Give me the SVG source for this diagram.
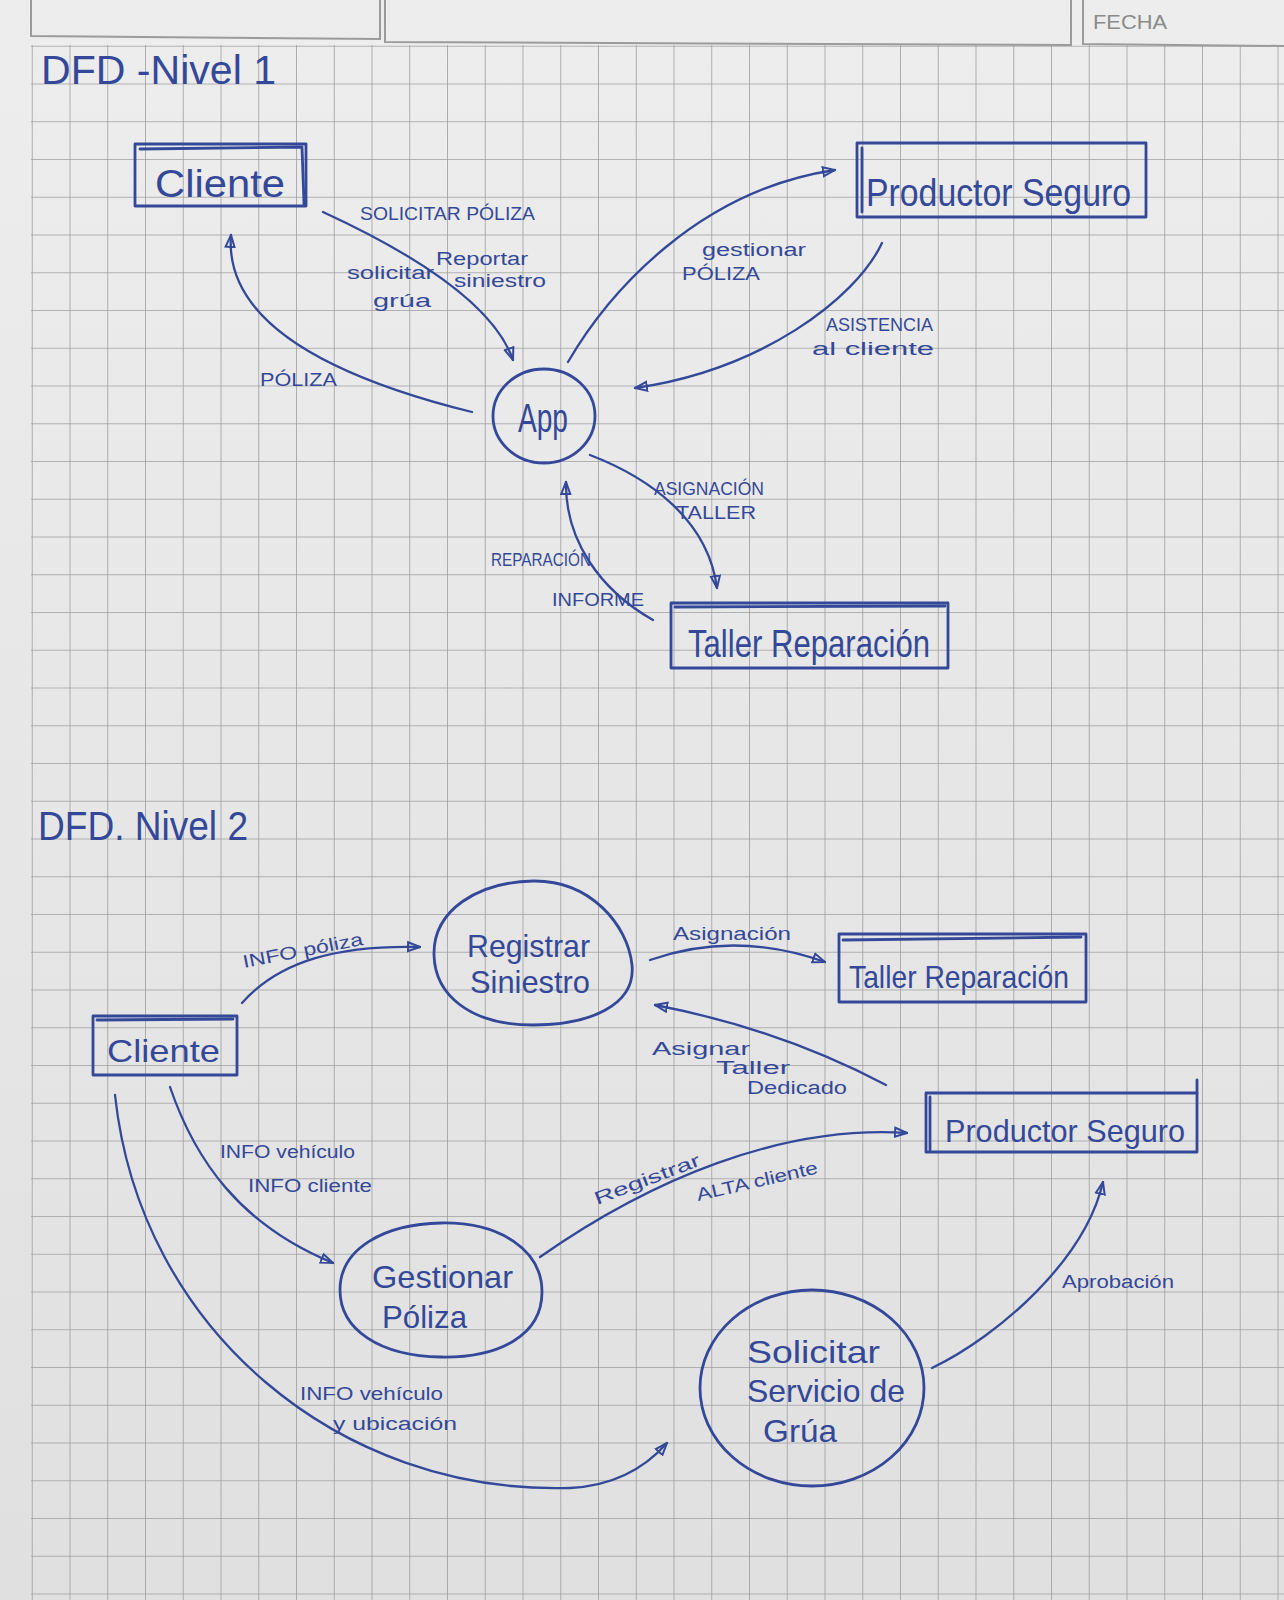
<svg xmlns="http://www.w3.org/2000/svg" width="1284" height="1600" viewBox="0 0 1284 1600">
<defs>
<linearGradient id="paper" x1="0" y1="0" x2="0" y2="1">
<stop offset="0" stop-color="#ecedec"/>
<stop offset="1" stop-color="#dfe0df"/>
</linearGradient>
<pattern id="grid" patternUnits="userSpaceOnUse" x="31.75" y="8" width="37.75" height="37.75">
<path d="M0,0 L37.75,0 M0,0 L0,37.75" fill="none" stroke="#9d9e9d" stroke-width="1.6"/>
</pattern>
<marker id="ah" viewBox="0 0 14 12" refX="13" refY="6" markerWidth="14" markerHeight="12" markerUnits="userSpaceOnUse" orient="auto">
<path d="M1,1.5 L13,6 L1,10.5 Z" fill="none" stroke="#34489a" stroke-width="2"/>
</marker>
<style>
.ink{fill:none;stroke:#34489a;stroke-width:2.8;stroke-linecap:round;stroke-linejoin:round}
.con{fill:none;stroke:#34489a;stroke-width:2.3;stroke-linecap:round;marker-end:url(#ah)}
.hdr{fill:none;stroke:#9a9b9a;stroke-width:2}
.t{font-family:"Liberation Sans","DejaVu Sans",sans-serif;fill:#34489a}
.big{font-size:38px}
.mid{font-size:32px}
.lab{font-size:18px}
.ttl{font-size:40px}
</style>
</defs>

<rect x="0" y="0" width="1284" height="1600" fill="url(#paper)"/>
<rect x="31" y="45" width="1253" height="1555" fill="url(#grid)"/>

<g id="header">
<path class="hdr" d="M31,0 L31,36 L380,39 L380,0"/>
<path class="hdr" d="M385,0 L385,42 L1071,45 L1071,0"/>
<path class="hdr" d="M1083,0 L1083,44 L1284,46"/>
<text x="1093" y="29" font-family="Liberation Sans, sans-serif" font-size="20" fill="#8a8b8a" textLength="74" lengthAdjust="spacingAndGlyphs">FECHA</text>
</g>

<g id="title1"><text class="t ttl" x="41" y="84" textLength="235" lengthAdjust="spacingAndGlyphs">DFD -Nivel 1</text></g>

<!-- Level 1 nodes -->
<g id="l1-cliente">
<rect class="ink" x="135" y="144" width="171" height="62"/>
<path class="ink" d="M140,149 L302,147 L304,204" stroke-width="1.8"/>
<text class="t big" x="155" y="197" textLength="130" lengthAdjust="spacingAndGlyphs">Cliente</text>
</g>
<g id="l1-productor">
<rect class="ink" x="857" y="143" width="289" height="74"/>
<path class="ink" d="M862,148 L862,212" stroke-width="1.8"/>
<text class="t big" x="866" y="206" textLength="265" lengthAdjust="spacingAndGlyphs">Productor Seguro</text>
</g>
<g id="l1-app">
<ellipse class="ink" cx="544" cy="416" rx="51" ry="47"/>
<text class="t ttl" x="518" y="432" textLength="50" lengthAdjust="spacingAndGlyphs">App</text>
</g>
<g id="l1-taller">
<rect class="ink" x="671" y="603" width="277" height="65"/>
<path class="ink" d="M675,607 L945,606" stroke-width="1.8"/>
<text class="t big" x="688" y="657" textLength="242" lengthAdjust="spacingAndGlyphs">Taller Reparación</text>
</g>

<g id="l1-connectors">
<path class="con" d="M323,212 Q488,288 513,360"/>
<path class="con" d="M472,412 Q222,350 231,235"/>
<path class="con" d="M568,362 C610,290 700,190 835,170"/>
<path class="con" d="M882,243 C855,300 760,370 635,388"/>
<path class="con" d="M590,455 C650,478 708,520 717,588"/>
<path class="con" d="M653,620 C600,590 565,540 566,482"/>
</g>

<g id="l1-labels">
<text class="t lab" x="360" y="220" textLength="175" lengthAdjust="spacingAndGlyphs">SOLICITAR PÓLIZA</text>
<text class="t lab" x="436" y="265" textLength="92" lengthAdjust="spacingAndGlyphs">Reportar</text>
<text class="t lab" x="454" y="287" textLength="92" lengthAdjust="spacingAndGlyphs">siniestro</text>
<text class="t lab" x="347" y="279" textLength="87" lengthAdjust="spacingAndGlyphs">solicitar</text>
<text class="t lab" x="373" y="307" textLength="58" lengthAdjust="spacingAndGlyphs">grúa</text>
<text class="t lab" x="260" y="386" textLength="77" lengthAdjust="spacingAndGlyphs">PÓLIZA</text>
<text class="t lab" x="702" y="256" textLength="104" lengthAdjust="spacingAndGlyphs">gestionar</text>
<text class="t lab" x="682" y="280" textLength="78" lengthAdjust="spacingAndGlyphs">PÓLIZA</text>
<text class="t lab" x="826" y="331" textLength="107" lengthAdjust="spacingAndGlyphs">ASISTENCIA</text>
<text class="t lab" x="812" y="355" textLength="122" lengthAdjust="spacingAndGlyphs">al cliente</text>
<text class="t lab" x="654" y="495" textLength="110" lengthAdjust="spacingAndGlyphs">ASIGNACIÓN</text>
<text class="t lab" x="676" y="519" textLength="80" lengthAdjust="spacingAndGlyphs">TALLER</text>
<text class="t lab" x="491" y="566" textLength="100" lengthAdjust="spacingAndGlyphs">REPARACIÓN</text>
<text class="t lab" x="552" y="606" textLength="92" lengthAdjust="spacingAndGlyphs">INFORME</text>
</g>

<g id="title2"><text class="t ttl" x="38" y="840" textLength="210" lengthAdjust="spacingAndGlyphs">DFD. Nivel 2</text></g>

<!-- Level 2 nodes -->
<g id="l2-cliente">
<rect class="ink" x="93" y="1016" width="144" height="59"/>
<path class="ink" d="M97,1020 L233,1019" stroke-width="1.8"/>
<text class="t mid" x="107" y="1062" textLength="113" lengthAdjust="spacingAndGlyphs">Cliente</text>
</g>
<g id="l2-registrar">
<path class="ink" d="M533,881 C590,880 628,925 632,965 C636,1005 590,1025 533,1025 C470,1025 435,995 434,955 C433,910 478,882 533,881 Z"/>
<text class="t mid" x="467" y="957" textLength="123" lengthAdjust="spacingAndGlyphs">Registrar</text>
<text class="t mid" x="470" y="993" textLength="120" lengthAdjust="spacingAndGlyphs">Siniestro</text>
</g>
<g id="l2-taller">
<rect class="ink" x="839" y="934" width="247" height="68"/>
<path class="ink" d="M843,940 L1081,937" stroke-width="1.8"/>
<text class="t mid" x="849" y="988" textLength="220" lengthAdjust="spacingAndGlyphs">Taller Reparación</text>
</g>
<g id="l2-productor">
<rect class="ink" x="926" y="1093" width="271" height="59"/>
<path class="ink" d="M1197,1093 L1197,1080 M930,1097 L930,1150" stroke-width="1.8"/>
<text class="t mid" x="945" y="1142" textLength="240" lengthAdjust="spacingAndGlyphs">Productor Seguro</text>
</g>
<g id="l2-gestionar">
<path class="ink" d="M441,1223 C500,1222 542,1250 542,1292 C542,1335 500,1358 441,1357 C380,1356 340,1330 340,1290 C340,1248 385,1224 441,1223 Z"/>
<text class="t mid" x="372" y="1288" textLength="141" lengthAdjust="spacingAndGlyphs">Gestionar</text>
<text class="t mid" x="382" y="1328" textLength="85" lengthAdjust="spacingAndGlyphs">Póliza</text>
</g>
<g id="l2-solicitar">
<ellipse class="ink" cx="812" cy="1388" rx="112" ry="98"/>
<text class="t mid" x="747" y="1363" textLength="133" lengthAdjust="spacingAndGlyphs">Solicitar</text>
<text class="t mid" x="747" y="1402" textLength="158" lengthAdjust="spacingAndGlyphs">Servicio de</text>
<text class="t mid" x="763" y="1442" textLength="74" lengthAdjust="spacingAndGlyphs">Grúa</text>
</g>

<g id="l2-connectors">
<path class="con" d="M242,1003 C280,960 340,945 420,947"/>
<path class="con" d="M650,960 Q735,930 825,962"/>
<path class="con" d="M886,1085 Q780,1029 655,1005"/>
<path class="con" d="M170,1087 C195,1160 240,1225 333,1263"/>
<path class="con" d="M540,1257 C650,1180 780,1125 907,1133"/>
<path class="con" d="M115,1095 C140,1330 340,1495 570,1488 Q630,1485 667,1443"/>
<path class="con" d="M932,1368 C1000,1335 1085,1260 1103,1182"/>
</g>

<g id="l2-labels">
<text class="t lab" x="244" y="968" transform="rotate(-11 244 968)" textLength="122" lengthAdjust="spacingAndGlyphs">INFO póliza</text>
<text class="t lab" x="673" y="940" font-size="20" textLength="118" lengthAdjust="spacingAndGlyphs">Asignación</text>
<text class="t lab" x="652" y="1055" textLength="98" lengthAdjust="spacingAndGlyphs">Asignar</text>
<text class="t lab" x="716" y="1074" textLength="74" lengthAdjust="spacingAndGlyphs">Taller</text>
<text class="t lab" x="747" y="1094" textLength="100" lengthAdjust="spacingAndGlyphs">Dedicado</text>
<text class="t lab" x="220" y="1158" textLength="135" lengthAdjust="spacingAndGlyphs">INFO vehículo</text>
<text class="t lab" x="248" y="1192" textLength="124" lengthAdjust="spacingAndGlyphs">INFO cliente</text>
<text class="t lab" x="597" y="1205" transform="rotate(-21 597 1205)" textLength="112" lengthAdjust="spacingAndGlyphs">Registrar</text>
<text class="t lab" x="698" y="1201" transform="rotate(-13 698 1201)" textLength="124" lengthAdjust="spacingAndGlyphs">ALTA cliente</text>
<text class="t lab" x="300" y="1400" textLength="143" lengthAdjust="spacingAndGlyphs">INFO vehículo</text>
<text class="t lab" x="333" y="1430" textLength="124" lengthAdjust="spacingAndGlyphs">y ubicación</text>
<text class="t lab" x="1062" y="1288" textLength="112" lengthAdjust="spacingAndGlyphs">Aprobación</text>
</g>
</svg>
